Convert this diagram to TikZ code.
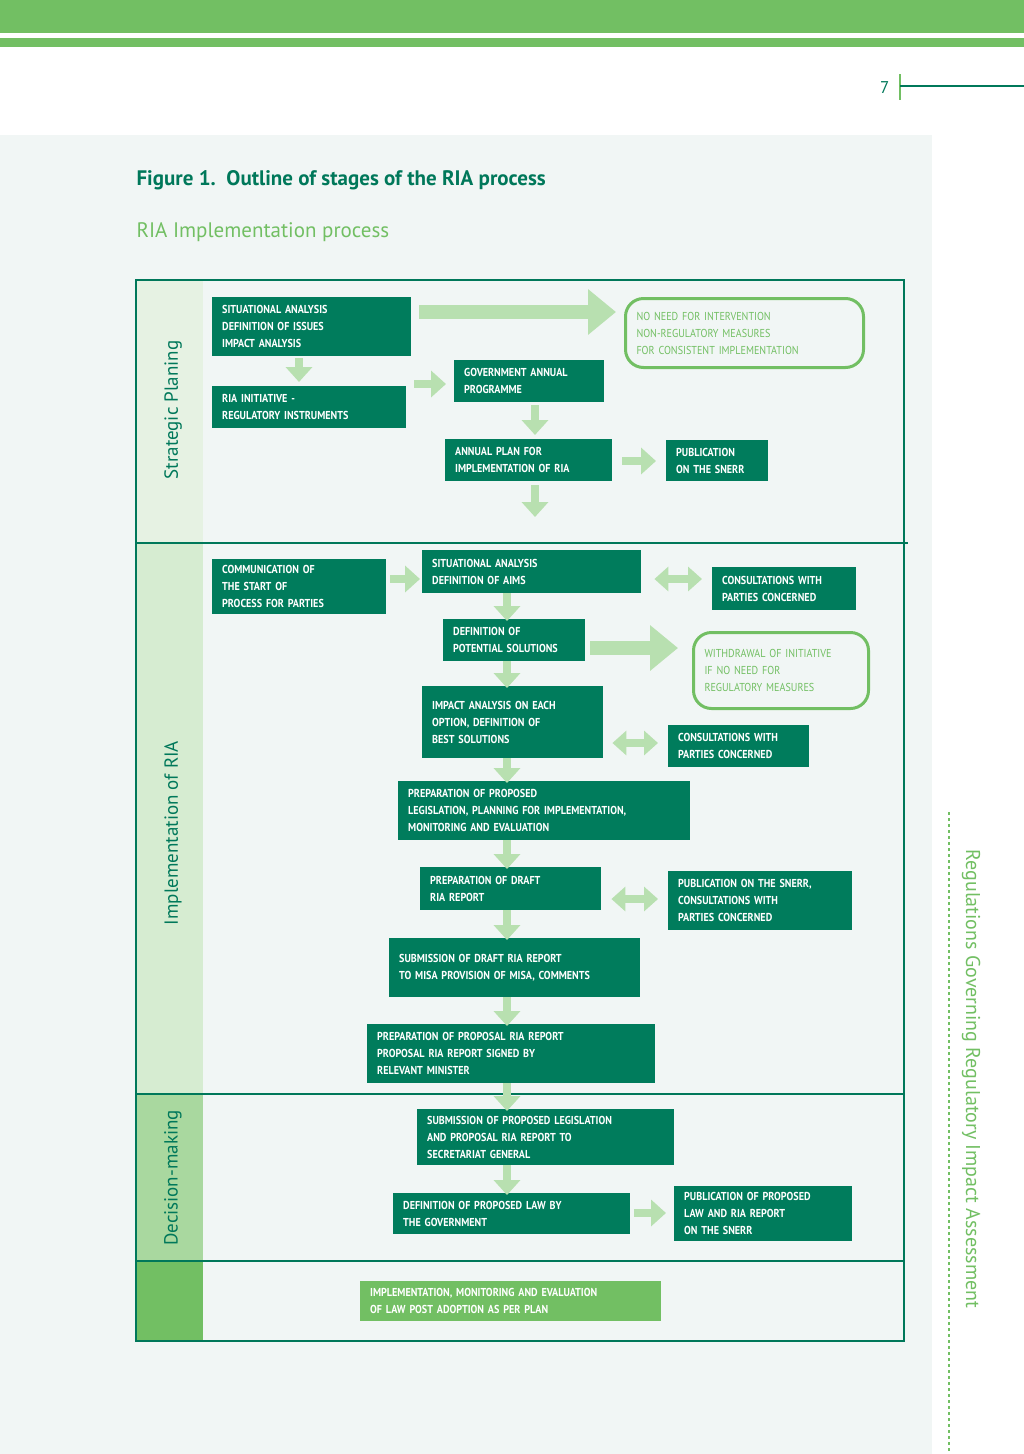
\documentclass[tikz,border=0pt]{standalone}
\usepackage{fontspec}
\setmainfont{PT Sans}
\newfontfamily\bxfont[FakeStretch=0.88]{PT Sans}
\usetikzlibrary{arrows.meta,calc}
\definecolor{dg}{HTML}{007C5C}
\definecolor{fr}{HTML}{00785A}
\definecolor{lg}{HTML}{72BF63}
\definecolor{ag}{HTML}{B8E0B0}
\definecolor{pbg}{HTML}{F1F6F5}
\definecolor{c1}{HTML}{E6F2E3}
\definecolor{c2}{HTML}{D6ECD1}
\definecolor{c3}{HTML}{A9D89F}
\tikzset{
 box/.style={fill=dg,text=white,font=\bxfont\bfseries\fontsize{11.5}{17}\selectfont,align=left,inner xsep=10pt,inner ysep=0pt,anchor=north west},
 obox/.style={draw=lg,line width=3pt,rounded corners=18pt,text=lg,font=\bxfont\fontsize{11.5}{17}\selectfont,align=left,inner xsep=11pt,inner ysep=0pt,anchor=north west},
 sarr/.style={draw=ag,line width=8pt,-{Triangle[length=15pt,width=26pt]}},
 darr/.style={draw=ag,line width=8pt,{Triangle[length=14pt,width=24pt]}-{Triangle[length=14pt,width=24pt]}},
 barr/.style={draw=ag,line width=14pt,-{Triangle[length=28pt,width=44pt]}},
 lab/.style={rotate=90,text=fr,font=\fontsize{19}{22}\selectfont}
}
\newcommand{\bx}[7][box]{\pgfmathsetmacro\tw{#5-#3-20}\pgfmathsetmacro\mw{#5-#3}\pgfmathsetmacro\mh{#6-#4}%
 \node[#1,minimum width=\mw pt,minimum height=\mh pt,text width=\tw pt] (#2) at (#3,#4) {#7};}
\begin{document}
\begin{tikzpicture}[x=1pt,y=-1pt]
\useasboundingbox (0,0) rectangle (1024,1454);
\fill[white] (0,0) rectangle (1024,1454);
\fill[lg] (0,0) rectangle (1024,33);
\fill[lg] (0,38) rectangle (1024,47);
\node[text=fr,font=\fontsize{17}{20}\selectfont,anchor=east] (pg) at (893,88) {7};
\draw[lg,line width=2pt] (900,74) -- (900,100);
\draw[fr,line width=1.2pt] (900,86) -- (1024,86);
\fill[pbg] (0,135) rectangle (932,1454);
\node[anchor=west,text=fr,font=\bfseries\fontsize{21}{24}\selectfont] (title) at (133,180) {Figure 1.\ \ Outline of stages of the RIA process};
\node[anchor=west,text=lg,font=\fontsize{21}{24}\selectfont] (sub) at (133,232) {RIA Implementation process};
% left column
\fill[c1] (136,280) rectangle (203,543);
\fill[c2] (136,543) rectangle (203,1094);
\fill[c3] (136,1094) rectangle (203,1261);
\fill[lg] (136,1261) rectangle (203,1341);
\draw[fr,line width=2.5pt] (136,280) rectangle (904,1341);
\draw[fr,line width=2.5pt] (136,543) -- (908,543);
\draw[fr,line width=2.5pt] (136,1094) -- (904,1094);
\draw[fr,line width=2.5pt] (136,1261) -- (904,1261);
\node[lab] (l1) at (173,410) {Strategic Planing};
\node[lab] (l2) at (173,833) {Implementation of RIA};
\node[lab] (l3) at (173,1178) {Decision-making};
% right side
\draw[lg,line width=1.3pt,dash pattern=on 3pt off 3pt] (949,812) -- (949,1454);
\node[rotate=-90,text=lg,font=\fontsize{20}{24}\selectfont] (side) at (971,1079) {Regulations Governing Regulatory Impact Assessment};
% boxes
\bx{b1}{212}{297}{411}{356}{SITUATIONAL ANALYSIS\\DEFINITION OF ISSUES\\IMPACT ANALYSIS}
\bx{b2}{212}{386}{406}{428}{RIA INITIATIVE -\\REGULATORY INSTRUMENTS}
\bx{b3}{454}{360}{604}{402}{GOVERNMENT ANNUAL\\PROGRAMME}
\bx{b4}{445}{439}{612}{481}{ANNUAL PLAN FOR\\IMPLEMENTATION OF RIA}
\bx{b5}{666}{440}{768}{481}{PUBLICATION\\ON THE SNERR}
\bx[obox]{r1}{624}{297}{860}{366}{NO NEED FOR INTERVENTION\\NON-REGULATORY MEASURES\\FOR CONSISTENT IMPLEMENTATION}
\bx{b6}{212}{559}{386}{614}{COMMUNICATION OF\\THE START OF\\PROCESS FOR PARTIES}
\bx{b7}{422}{550}{641}{593}{SITUATIONAL ANALYSIS\\DEFINITION OF AIMS}
\bx{b8}{712}{567}{856}{610}{CONSULTATIONS WITH\\PARTIES CONCERNED}
\bx{b9}{443}{619}{585}{661}{DEFINITION OF\\POTENTIAL SOLUTIONS}
\bx[obox]{r2}{692}{631}{865}{707}{WITHDRAWAL OF INITIATIVE\\IF NO NEED FOR\\REGULATORY MEASURES}
\bx{b10}{422}{686}{603}{758}{IMPACT ANALYSIS ON EACH\\OPTION, DEFINITION OF\\BEST SOLUTIONS}
\bx{b11}{668}{725}{809}{767}{CONSULTATIONS WITH\\PARTIES CONCERNED}
\bx{b12}{398}{781}{690}{840}{PREPARATION OF PROPOSED\\LEGISLATION, PLANNING FOR IMPLEMENTATION,\\MONITORING AND EVALUATION}
\bx{b13}{420}{867}{601}{910}{PREPARATION OF DRAFT\\RIA REPORT}
\bx{b14}{668}{871}{852}{930}{PUBLICATION ON THE SNERR,\\CONSULTATIONS WITH\\PARTIES CONCERNED}
\bx{b15}{389}{938}{640}{997}{SUBMISSION OF DRAFT RIA REPORT\\TO MISA PROVISION OF MISA, COMMENTS}
\bx{b16}{367}{1024}{655}{1083}{PREPARATION OF PROPOSAL RIA REPORT\\PROPOSAL RIA REPORT SIGNED BY\\RELEVANT MINISTER}
\bx{b17}{417}{1109}{674}{1165}{SUBMISSION OF PROPOSED LEGISLATION\\AND PROPOSAL RIA REPORT TO\\SECRETARIAT GENERAL}
\bx{b18}{393}{1193}{630}{1234}{DEFINITION OF PROPOSED LAW BY\\THE GOVERNMENT}
\bx{b19}{674}{1186}{852}{1241}{PUBLICATION OF PROPOSED\\LAW AND RIA REPORT\\ON THE SNERR}
\bx[box,fill=lg]{b20}{360}{1281}{661}{1321}{IMPLEMENTATION, MONITORING AND EVALUATION\\OF LAW POST ADOPTION AS PER PLAN}
% x/y reference coordinates
\coordinate (x299) at (299,0);
\coordinate (x535) at (535,0);
\coordinate (x507) at (507,0);
\coordinate (y312) at (0,312);
\coordinate (y384) at (0,384);
\coordinate (y461) at (0,461);
\coordinate (y579) at (0,579);
\coordinate (y648) at (0,648);
\coordinate (y743) at (0,743);
\coordinate (y899) at (0,899);
\coordinate (y1213) at (0,1213);
\coordinate (end1) at (535,517);
% arrows
\draw[barr,shorten <=8pt,shorten >=8pt] (b1.east |- y312) -- (r1.west |- y312);
\draw[sarr,shorten <=2pt,shorten >=4pt] (b1.south -| x299) -- (b2.north -| x299);
\draw[sarr,shorten <=8pt,shorten >=8pt] (b2.east |- y384) -- (b3.west |- y384);
\draw[sarr,shorten <=3pt,shorten >=4pt] (b3.south -| x535) -- (b4.north -| x535);
\draw[sarr,shorten <=10pt,shorten >=10pt] (b4.east |- y461) -- (b5.west |- y461);
\draw[sarr,shorten <=4pt] (b4.south -| x535) -- (end1);
\draw[sarr,shorten <=4pt,shorten >=2pt] (b6.east |- y579) -- (b7.west |- y579);
\draw[darr,shorten <=13pt,shorten >=10pt] (b7.east |- y579) -- (b8.west |- y579);
\draw[sarr,shorten >=-2pt] (b7.south -| x507) -- (b9.north -| x507);
\draw[barr,shorten <=5pt,shorten >=14pt] (b9.east |- y648) -- (r2.west |- y648);
\draw[sarr,shorten >=-2pt] (b9.south -| x507) -- (b10.north -| x507);
\draw[darr,shorten <=9pt,shorten >=10pt] (b10.east |- y743) -- (b11.west |- y743);
\draw[sarr,shorten >=-2pt] (b10.south -| x507) -- (b12.north -| x507);
\draw[sarr,shorten >=-2pt] (b12.south -| x507) -- (b13.north -| x507);
\draw[darr,shorten <=10pt,shorten >=10pt] (b13.east |- y899) -- (b14.west |- y899);
\draw[sarr,shorten >=-2pt] (b13.south -| x507) -- (b15.north -| x507);
\draw[sarr,shorten >=-2pt] (b15.south -| x507) -- (b16.north -| x507);
\draw[sarr,shorten >=-2pt] (b16.south -| x507) -- (b17.north -| x507);
\draw[sarr,shorten >=-2pt] (b17.south -| x507) -- (b18.north -| x507);
\draw[sarr,shorten <=4pt,shorten >=8pt] (b18.east |- y1213) -- (b19.west |- y1213);
\end{tikzpicture}
\end{document}
